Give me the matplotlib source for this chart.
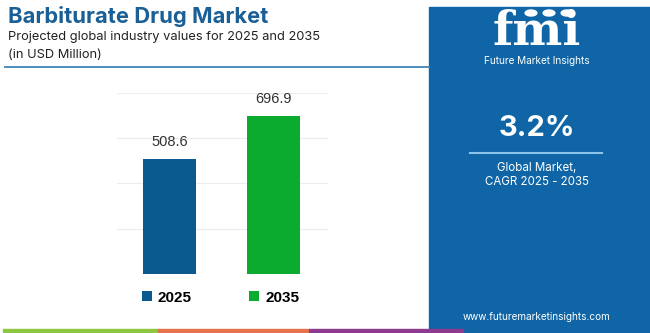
import matplotlib
matplotlib.use('Agg')
import matplotlib.pyplot as plt
from matplotlib.patches import Rectangle, Circle

# data
years = ["2025", "2035"]
values = [508.6, 696.9]
bar_colors = ["#0b5a8f", "#0bab2f"]
cagr_text = "3.2%"

PANEL = "#0f65a6"
W, H = 650, 333

fig = plt.figure(figsize=(6.5, 3.33), dpi=100)
fig.patch.set_facecolor("white")

def fx(px):
    return px / W

def fy(py):
    return 1 - py / H

# title block
fig.text(fx(8), fy(23), "Barbiturate Drug Market", fontsize=15.8, fontweight="bold",
         color="#1a5f96", family="Inter", va="baseline", ha="left")
fig.text(fx(8), fy(40), "Projected global industry values for 2025 and 2035",
         fontsize=9.25, color="#222222", family="Inter", va="baseline", ha="left")
fig.text(fx(8), fy(58), "(in USD Million)", fontsize=9.25, color="#222222",
         family="Inter", va="baseline", ha="left")
fig.add_artist(plt.Line2D([fx(5), fx(429)], [fy(67), fy(67)], color="#3d85b8",
                          lw=1.3, transform=fig.transFigure))

# bar chart
ax = fig.add_axes([fx(117), fy(274), fx(328) - fx(117), fy(92.7) - fy(274)])
x = list(range(len(years)))
bars = ax.bar(x, values, width=0.507, color=bar_colors, label=years, zorder=3)
ax.set_xlim(-0.502, 1.517)
ax.set_ylim(0, 800)
ax.set_yticks([0, 200, 400, 600, 800])
ax.grid(axis="y", color="#ececec", lw=0.8, zorder=0)
ax.tick_params(left=False, bottom=False, labelleft=False, labelbottom=False)
for s in ax.spines.values():
    s.set_visible(False)
for b, v in zip(bars, values):
    ax.annotate(f"{v}", (b.get_x() + b.get_width() / 2, v), xytext=(0, 7),
                textcoords="offset points", ha="center", va="bottom",
                fontsize=10.5, color="#333333", family="Liberation Sans")
leg = ax.legend(handles=list(bars), labels=years, ncol=2, loc="center",
                bbox_to_anchor=(0.49, -0.13), frameon=False, handlelength=0.65,
                handleheight=0.65, handletextpad=0.4, columnspacing=3.75,
                prop={"family": "Liberation Sans", "weight": "bold", "size": 11})

# right panel
fig.add_artist(Rectangle((fx(429), 0), 1 - fx(429), fy(7), color=PANEL,
                         transform=fig.transFigure, zorder=0))
fig.text(fx(537), fy(45), "fmi", fontsize=34, fontweight="bold", family="DejaVu Serif",
         color="white", ha="center", va="baseline")
for yy in range(21, 46, 3):
    fig.add_artist(plt.Line2D([fx(484), fx(592)], [fy(yy), fy(yy)], color=PANEL,
                              lw=0.7, transform=fig.transFigure))
for cx in (531, 549, 567):
    fig.add_artist(Circle((fx(cx), fy(13)), 0.009, color="white",
                          transform=fig.transFigure))
fig.text(fx(537), fy(61), "Future Market Insights", fontsize=7.2, color="white",
         family="Inter", ha="center", va="center")
fig.text(fx(537), fy(129), cagr_text, fontsize=21, fontweight="bold", color="white",
         family="Inter", ha="center", va="center")
fig.add_artist(plt.Line2D([fx(470), fx(602)], [fy(153), fy(153)], color="#8cc4ec",
                          lw=1.5, transform=fig.transFigure))
fig.text(fx(537), fy(168), "Global Market,", fontsize=8.3, color="white",
         family="Inter", ha="center", va="center")
fig.text(fx(537), fy(182), "CAGR 2025 - 2035", fontsize=8.3, color="white",
         family="Inter", ha="center", va="center")
fig.text(fx(537), fy(317), "www.futuremarketinsights.com", fontsize=7.2, color="white",
         family="Inter", ha="center", va="center")

# bottom stripe
for x0, x1, c in [(3, 158, "#8dc63f"), (158, 309, "#e6734b"), (309, 463, "#8e3a8e")]:
    fig.add_artist(Rectangle((fx(x0), fy(332)), fx(x1) - fx(x0), 3 / H, color=c,
                             transform=fig.transFigure))

fig.savefig("out.png", dpi=100)
